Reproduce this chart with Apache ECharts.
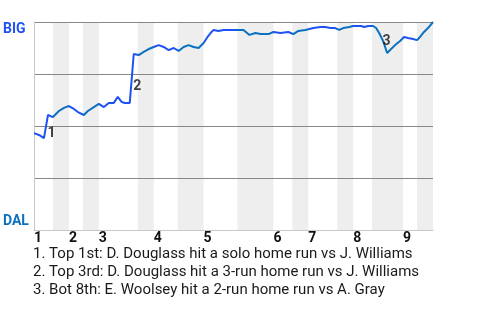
<!DOCTYPE html>
<html><head><meta charset="utf-8">
<script src="https://cdn.jsdelivr.net/npm/echarts@6/dist/echarts.min.js"></script>
<style>html,body{margin:0;padding:0;background:#fff}#c{width:480px;height:320px}</style>
</head><body><div id="c"></div>
<script>
// ---- data ----
const topTeam = 'BIG';
const bottomTeam = 'DAL';
const teamColors = { BIG: '#1f52f5', DAL: '#0a70c0' };
// game progress (plate appearances) at which each half inning starts; last value = game end
const halfInningStarts = [0, 3.8, 7, 9.8, 13, 20.8, 24, 28.8, 34, 40.8, 48, 51.8, 55, 60.8, 64, 67.8, 74, 76.8, 80];
const inningLabels = ['1', '2', '3', '4', '5', '6', '7', '8', '9'];
// game progress of each event
const eventX = [0, 1, 2, 2.8, 3.8, 5, 6, 7, 8, 8.8, 10, 10.8, 12, 13, 14, 15, 16, 16.8, 17.6, 18.2, 19.2,
  20, 21, 22, 23, 24, 25, 26, 27, 28, 29, 30, 31, 32, 33, 34, 34.8, 35.4, 36, 37, 38, 41, 42,
  43.2, 44.4, 45.4, 47, 48, 49.4, 51, 52, 53, 54.4, 55.2, 56, 57.4, 58.4, 59.4, 60.4, 61.2, 62,
  63.2, 64, 65.6, 66.2, 67, 68, 68.6, 69.2, 70, 70.8, 71.4, 72.4, 73.4, 74.2, 75, 76, 76.8, 77.4,
  78.2, 79, 80];
// BIG win probability (%) after each event
const bigWinPct = [46.6, 45.7, 44.2, 55.3, 54.3, 57.2, 58.7, 59.6, 58.2, 56.7, 55.3, 57.2, 59.1, 60.6, 59.1, 61.1, 61.1, 64.0, 61.5, 61.1, 61.1,
  84.6, 84.1, 85.6, 87.0, 88.0, 88.9, 88.0, 86.5, 87.5, 86.1, 88.0, 88.9, 88.0, 87.5, 89.9, 92.8, 94.7, 96.2, 95.7, 96.2, 96.2, 96.2,
  93.8, 94.7, 94.2, 94.2, 95.2, 94.7, 95.2, 94.2, 95.7, 96.2, 96.6, 97.1, 97.6, 97.6, 97.1, 97.1, 96.2, 97.1,
  97.6, 98.1, 98.1, 97.6, 98.1, 98.1, 97.1, 94.7, 90.9, 85.1, 86.5, 88.9, 90.9, 92.8, 92.3, 91.8, 91.3, 92.8,
  95.2, 97.1, 100];
// key plays: index of the event that ended each play
const keyPlayEvent = [3, 21, 70];
const keyPlayNotes = [
  '1. Top 1st: D. Douglass hit a solo home run vs J. Williams',
  '2. Top 3rd: D. Douglass hit a 3-run home run vs J. Williams',
  '3. Bot 8th: E. Woolsey hit a 2-run home run vs A. Gray'
];
const keyPlayLabelOffset = [[5.5, 7], [5.5, 8], [1.5, -5.5]];

// ---- build ----
const lineData = eventX.map((x, i) => [x, bigWinPct[i]]);
const pieces = [];
const bands = [];
for (let i = 0; i < halfInningStarts.length - 1; i++) {
  const isTop = i % 2 === 0;
  pieces.push({ gte: halfInningStarts[i], lt: halfInningStarts[i + 1] + (i === halfInningStarts.length - 2 ? 1 : 0),
    color: teamColors[isTop ? topTeam : bottomTeam] });
  if (!isTop) bands.push([{ xAxis: halfInningStarts[i] }, { xAxis: halfInningStarts[i + 1] }]);
}
const inningStarts = halfInningStarts.filter((v, i) => i % 2 === 0 && i < halfInningStarts.length - 1);
const keyPlayData = keyPlayEvent.map((e, k) => ({
  value: [(eventX[e - 1] + eventX[e]) / 2, (bigWinPct[e - 1] + bigWinPct[e]) / 2],
  label: { offset: keyPlayLabelOffset[k], formatter: String(k + 1) }
}));

const chart = echarts.init(document.getElementById('c'), null, { renderer: 'canvas' });
chart.setOption({
  animation: false,
  textStyle: { fontFamily: 'Roboto' },
  grid: { left: 33, right: 47, top: 22, bottom: 90 },
  title: {
    text: keyPlayNotes.join('\n'),
    left: 33, top: 245, padding: 0,
    textStyle: { fontSize: 15, fontWeight: 'normal', color: '#1a1a1a', lineHeight: 18, fontFamily: 'Roboto' }
  },
  xAxis: {
    type: 'value', min: halfInningStarts[0], max: halfInningStarts[halfInningStarts.length - 1], z: 3,
    axisLine: { show: true, lineStyle: { color: '#c8c8c8' } },
    axisTick: { show: false },
    splitLine: { show: false },
    axisLabel: {
      customValues: inningStarts,
      formatter: v => inningLabels[inningStarts.indexOf(v)] ?? '',
      align: 'left', verticalAlign: 'top', margin: 1,
      fontSize: 14, fontWeight: 'bold', color: '#111', fontFamily: 'Roboto'
    }
  },
  yAxis: {
    type: 'value', min: 0, max: 100, interval: 25, z: 3,
    axisLine: { show: true, lineStyle: { color: '#c8c8c8' } },
    axisTick: { show: false },
    splitLine: { show: true, lineStyle: { color: ['#c8c8c8', '#888', '#888', '#888', '#888'] } },
    axisLabel: {
      align: 'left', margin: 31,
      formatter: v => v === 100 ? '{top|' + topTeam + '}' : (v === 0 ? '{bot|' + bottomTeam + '}' : ''),
      rich: {
        top: { fontSize: 14, fontWeight: 'bold', color: teamColors[topTeam], padding: [14, 0, 0, 0], fontFamily: 'Roboto' },
        bot: { fontSize: 14, fontWeight: 'bold', color: teamColors[bottomTeam], padding: [0, 0, 18, 0], fontFamily: 'Roboto' }
      }
    }
  },
  visualMap: { show: false, type: 'piecewise', dimension: 0, seriesIndex: 0, pieces: pieces },
  series: [
    { type: 'line', data: lineData, z: 5, symbol: 'none', lineStyle: { width: 2 } },
    { type: 'line', data: [], z: 1, markArea: { silent: true, itemStyle: { color: '#eeeeee' }, data: bands } },
    { type: 'scatter', data: keyPlayData, z: 6, symbolSize: 0,
      label: { show: true, position: 'inside', fontSize: 14, fontWeight: 'bold', color: '#111', fontFamily: 'Roboto' } }
  ]
});
</script>
</body></html>
